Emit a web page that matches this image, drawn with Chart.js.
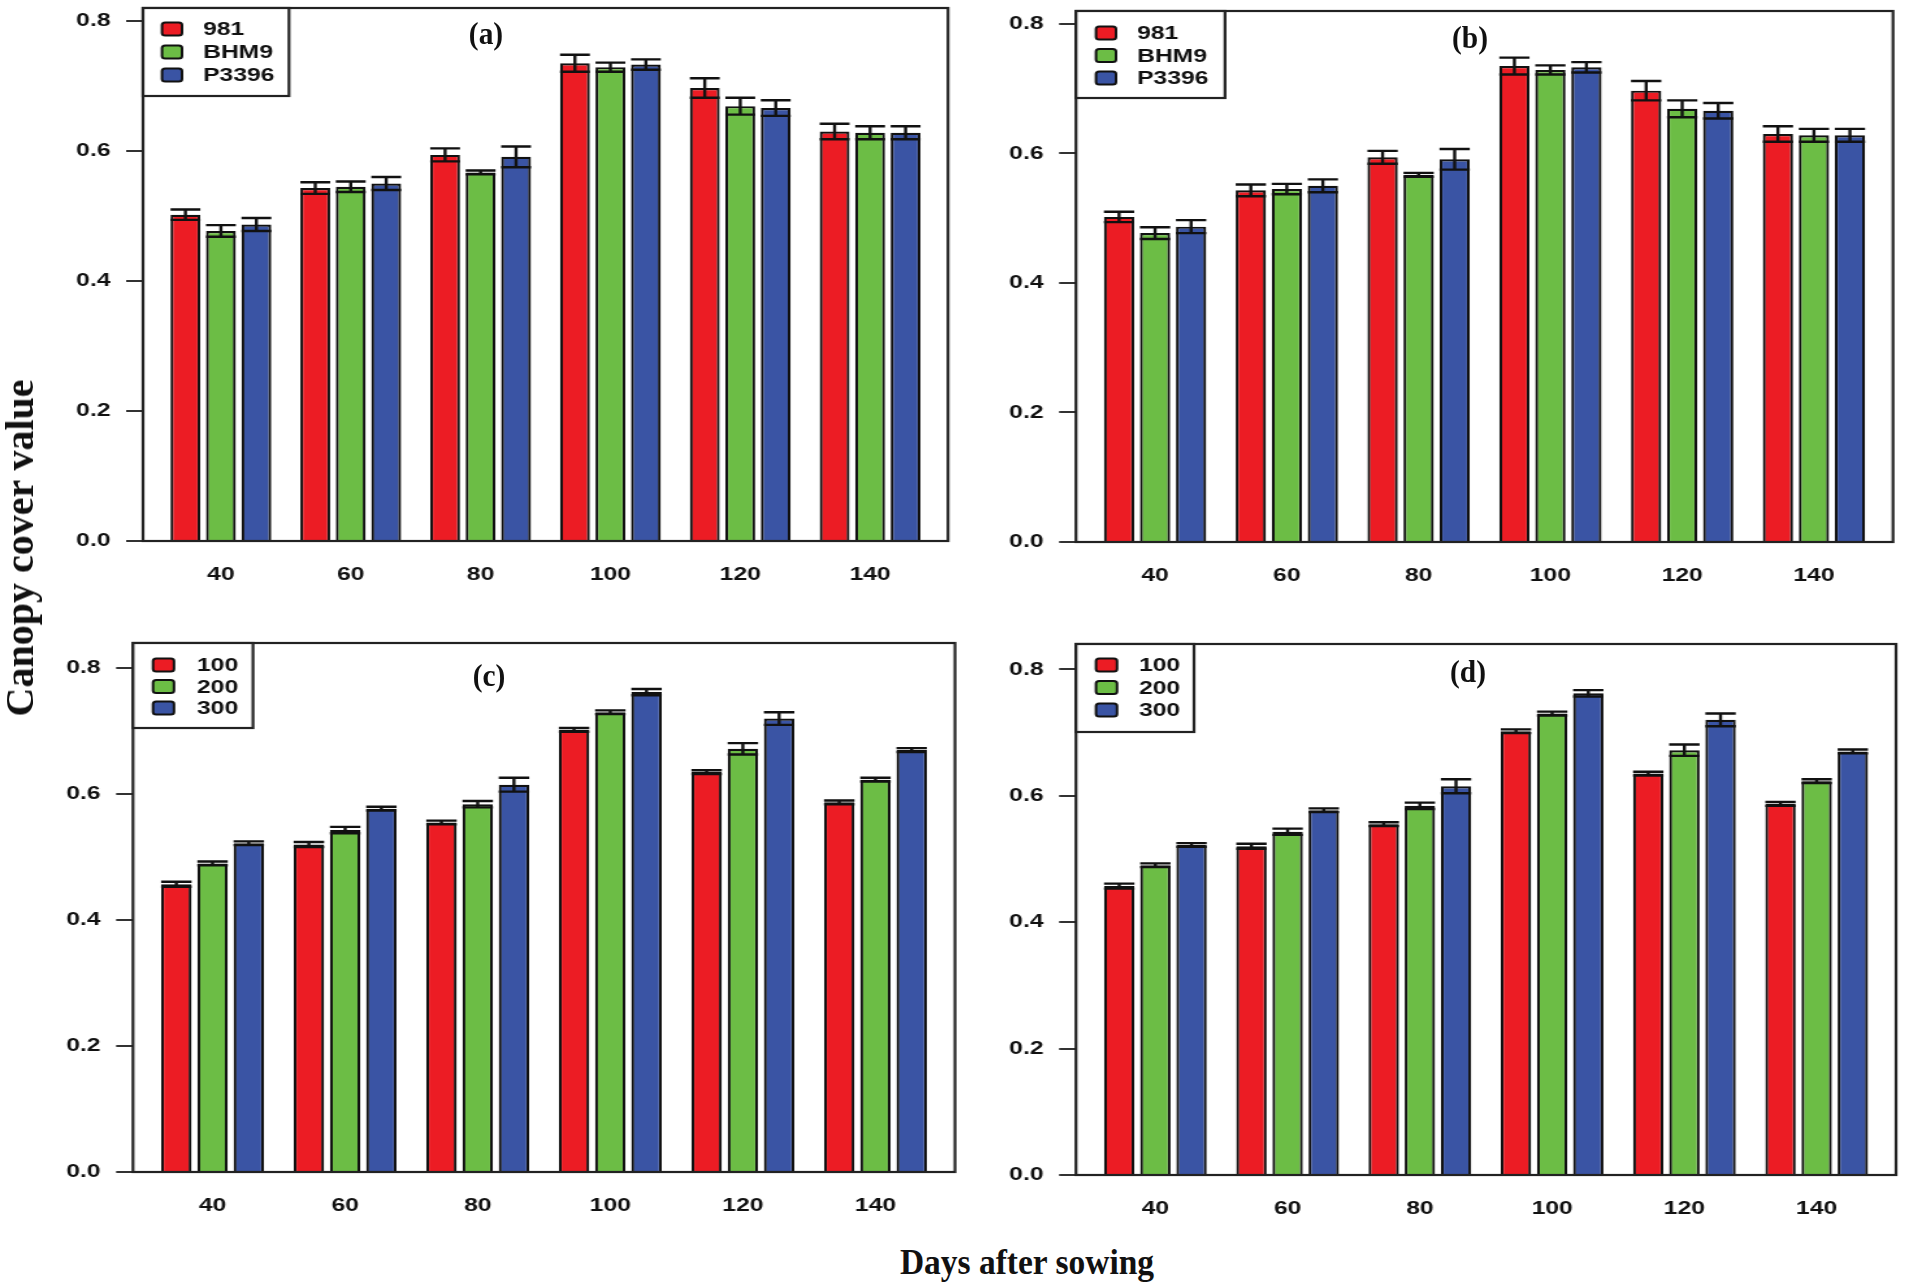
<!DOCTYPE html>
<html><head><meta charset="utf-8">
<script src="https://cdn.jsdelivr.net/npm/chart.js@4.4.0/dist/chart.umd.min.js"></script>
<style>
html,body{margin:0;padding:0;background:#fff;width:1905px;height:1286px;overflow:hidden;position:relative}
.panel{position:absolute;transform-origin:0 0;}
.lbl{position:absolute;font-family:"Liberation Serif","Times New Roman",serif;font-weight:bold;color:#111;white-space:nowrap;line-height:1;}
</style></head><body>
<script>
// ---- data ----
const days = [40, 60, 80, 100, 120, 140];
const yTicks = [0, 0.2, 0.4, 0.6, 0.8];
const genotypeNames = ['981', 'BHM9', 'P3396'];
const g981   = [0.502, 0.543, 0.594, 0.735, 0.697, 0.630];
const gBHM9  = [0.477, 0.545, 0.567, 0.729, 0.669, 0.628];
const gP3396 = [0.487, 0.550, 0.591, 0.733, 0.666, 0.628];
const e981   = [0.008, 0.009, 0.010, 0.013, 0.015, 0.012];
const eBHM9  = [0.009, 0.008, 0.003, 0.007, 0.013, 0.010];
const eP3396 = [0.010, 0.010, 0.016, 0.008, 0.012, 0.010];
const rateNames = ['100', '200', '300'];
const r100 = [0.457, 0.520, 0.555, 0.702, 0.635, 0.587];
const r200 = [0.490, 0.543, 0.584, 0.730, 0.672, 0.623];
const r300 = [0.522, 0.577, 0.615, 0.762, 0.720, 0.670];
const e100 = [0.004, 0.004, 0.003, 0.003, 0.003, 0.003];
const e200 = [0.003, 0.005, 0.005, 0.003, 0.009, 0.003];
const e300 = [0.003, 0.003, 0.011, 0.005, 0.010, 0.003];
const colors = ['#EC1C24', '#6CBD45', '#3A54A4'];

const S = 1.3; // horizontal stretch of the plot panels
const FONT = '"Liberation Sans", Arial, sans-serif';

const boxPlugin = {
  id: 'panelBox',
  afterDatasetsDraw(chart) {
    const ctx = chart.ctx, a = chart.chartArea;
    ctx.save();
    ctx.lineWidth = 2.2; ctx.strokeStyle = '#222';
    ctx.strokeRect(a.left, a.top, a.right - a.left, a.bottom - a.top);
    ctx.restore();
  }
};
const errPlugin = {
  id: 'errBars',
  afterDatasetsDraw(chart) {
    const ctx = chart.ctx, ys = chart.scales.y;
    ctx.save();
    ctx.strokeStyle = '#111'; ctx.lineWidth = 2.4;
    chart.data.datasets.forEach((ds, i) => {
      const meta = chart.getDatasetMeta(i);
      meta.data.forEach((bar, j) => {
        const v = ds.data[j].y, e = ds.errs[j];
        const yt = ys.getPixelForValue(v + e), yb = ys.getPixelForValue(v - e);
        const hw = bar.width / 2;
        ctx.beginPath();
        ctx.moveTo(bar.x, yt); ctx.lineTo(bar.x, yb);
        ctx.moveTo(bar.x - hw, yt); ctx.lineTo(bar.x + hw, yt);
        ctx.moveTo(bar.x - hw, yb); ctx.lineTo(bar.x + hw, yb);
        ctx.stroke();
      });
    });
    ctx.restore();
  }
};
function rrect(ctx, x, y, w, h, r) {
  ctx.beginPath();
  ctx.moveTo(x + r, y); ctx.lineTo(x + w - r, y); ctx.quadraticCurveTo(x + w, y, x + w, y + r);
  ctx.lineTo(x + w, y + h - r); ctx.quadraticCurveTo(x + w, y + h, x + w - r, y + h);
  ctx.lineTo(x + r, y + h); ctx.quadraticCurveTo(x, y + h, x, y + h - r);
  ctx.lineTo(x, y + r); ctx.quadraticCurveTo(x, y, x + r, y); ctx.closePath();
}
const legendPlugin = {
  id: 'panelLegend',
  afterDraw(chart, args, o) {
    const ctx = chart.ctx, a = chart.chartArea;
    const L = a.left, T = a.top;
    ctx.save();
    ctx.fillStyle = '#fff';
    ctx.fillRect(L, T, o.w / S, o.h);
    ctx.lineWidth = 2.2; ctx.strokeStyle = '#222';
    ctx.strokeRect(L, T, o.w / S, o.h);
    chart.data.datasets.forEach((ds, i) => {
      const cy = T + o.row0 + i * o.step;
      rrect(ctx, L + o.sq / S, cy - 6.5, o.sw / S, 13, 2.5);
      ctx.fillStyle = ds.backgroundColor; ctx.fill();
      ctx.lineWidth = 2; ctx.strokeStyle = '#111'; ctx.stroke();
      ctx.fillStyle = '#111';
      ctx.font = 'bold 19px ' + FONT;
      ctx.textBaseline = 'middle'; ctx.textAlign = 'left';
      ctx.fillText(ds.label, L + o.tx / S, cy + 1);
    });
    ctx.restore();
  }
};

function makePanel(p, names, series, errs, leg) {
  const wrap = document.createElement('div');
  wrap.className = 'panel';
  wrap.style.left = p.x + 'px'; wrap.style.top = p.y + 'px';
  wrap.style.transform = 'scaleX(' + S + ')';
  const cv = document.createElement('canvas');
  const W = Math.round(p.w / S), H = p.h;
  cv.width = W; cv.height = H;
  cv.style.width = W + 'px'; cv.style.height = H + 'px';
  wrap.appendChild(cv); document.body.appendChild(wrap);
  const left = (p.left - p.x) / S;
  const right = W - (p.right - p.x) / S;
  const top = p.top - p.y;
  const xh = p.y + p.h - p.bottom;
  const tickFont = {family: FONT, size: 19, weight: 'bold'};
  new Chart(cv, {
    type: 'bar',
    data: {
      datasets: series.map((vals, i) => ({
        label: names[i],
        data: days.map((d, j) => ({x: d, y: vals[j]})),
        backgroundColor: colors[i], borderColor: '#111', borderWidth: 2.2,
        borderSkipped: 'start', errs: errs[i]
      }))
    },
    options: {
      responsive: false, animation: false, devicePixelRatio: 1,
      layout: {padding: {left: 0, right: right, top: top, bottom: 0}},
      datasets: {bar: {categoryPercentage: 0.82, barPercentage: 0.84}},
      plugins: {legend: {display: false}, tooltip: {enabled: false}, panelLegend: leg},
      scales: {
        x: {
          type: 'linear', min: 28, max: 152, offset: false,
          grid: {display: false, drawTicks: false}, border: {display: false},
          afterBuildTicks: s => { s.ticks = days.map(v => ({value: v})); },
          afterFit: s => { s.height = xh; s.paddingLeft = 0; s.paddingRight = 0; },
          ticks: {padding: 22, font: tickFont, color: '#111', maxRotation: 0, autoSkip: false, callback: v => String(v)}
        },
        y: {
          min: 0, max: p.ymax,
          afterBuildTicks: s => { s.ticks = yTicks.map(v => ({value: v})); },
          afterFit: s => { s.width = left; s.paddingTop = 0; s.paddingBottom = 0; },
          grid: {drawOnChartArea: false, drawTicks: true, tickLength: 13, lineWidth: 2, color: '#333'},
          border: {display: false},
          ticks: {padding: 12, font: tickFont, color: '#111', callback: v => Number(v).toFixed(1)}
        }
      }
    },
    plugins: [boxPlugin, errPlugin, legendPlugin]
  });
}

const gSeries = [g981, gBHM9, gP3396], gErr = [e981, eBHM9, eP3396];
const rSeries = [r100, r200, r300], rErr = [e100, e200, e300];

makePanel({x: 0, y: 0, w: 960, h: 600, left: 143, right: 948, top: 8, bottom: 541, ymax: 0.82},
  genotypeNames, gSeries, gErr, {w: 146, h: 88, row0: 21, step: 23, sq: 19, sw: 20, tx: 60});
makePanel({x: 960, y: 0, w: 945, h: 600, left: 1076, right: 1893, top: 11, bottom: 542, ymax: 0.82},
  genotypeNames, gSeries, gErr, {w: 149, h: 87, row0: 22, step: 22.5, sq: 20, sw: 20, tx: 61});
makePanel({x: 0, y: 620, w: 960, h: 620, left: 133, right: 955, top: 643, bottom: 1172, ymax: 0.84},
  rateNames, rSeries, rErr, {w: 120, h: 85, row0: 22, step: 21.5, sq: 20, sw: 21, tx: 64});
makePanel({x: 960, y: 620, w: 945, h: 620, left: 1076, right: 1896, top: 644, bottom: 1175, ymax: 0.84},
  rateNames, rSeries, rErr, {w: 118, h: 88, row0: 21, step: 22.5, sq: 20, sw: 21, tx: 63});

function addLabel(text, cx, cy, size, transform) {
  const d = document.createElement('div');
  d.className = 'lbl';
  d.textContent = text;
  d.style.fontSize = size + 'px';
  d.style.left = cx + 'px'; d.style.top = cy + 'px';
  d.style.transform = 'translate(-50%,-50%) ' + (transform || '');
  document.body.appendChild(d);
}
addLabel('(a)', 486, 33, 32, 'scaleX(0.92)');
addLabel('(b)', 1470, 37, 32, 'scaleX(0.92)');
addLabel('(c)', 489, 675, 32, 'scaleX(0.92)');
addLabel('(d)', 1468, 671, 32, 'scaleX(0.92)');
addLabel('Days after sowing', 1027, 1262, 36, 'scaleX(0.93)');
addLabel('Canopy cover value', 20, 548, 40, 'rotate(-90deg)');
</script>
</body></html>
